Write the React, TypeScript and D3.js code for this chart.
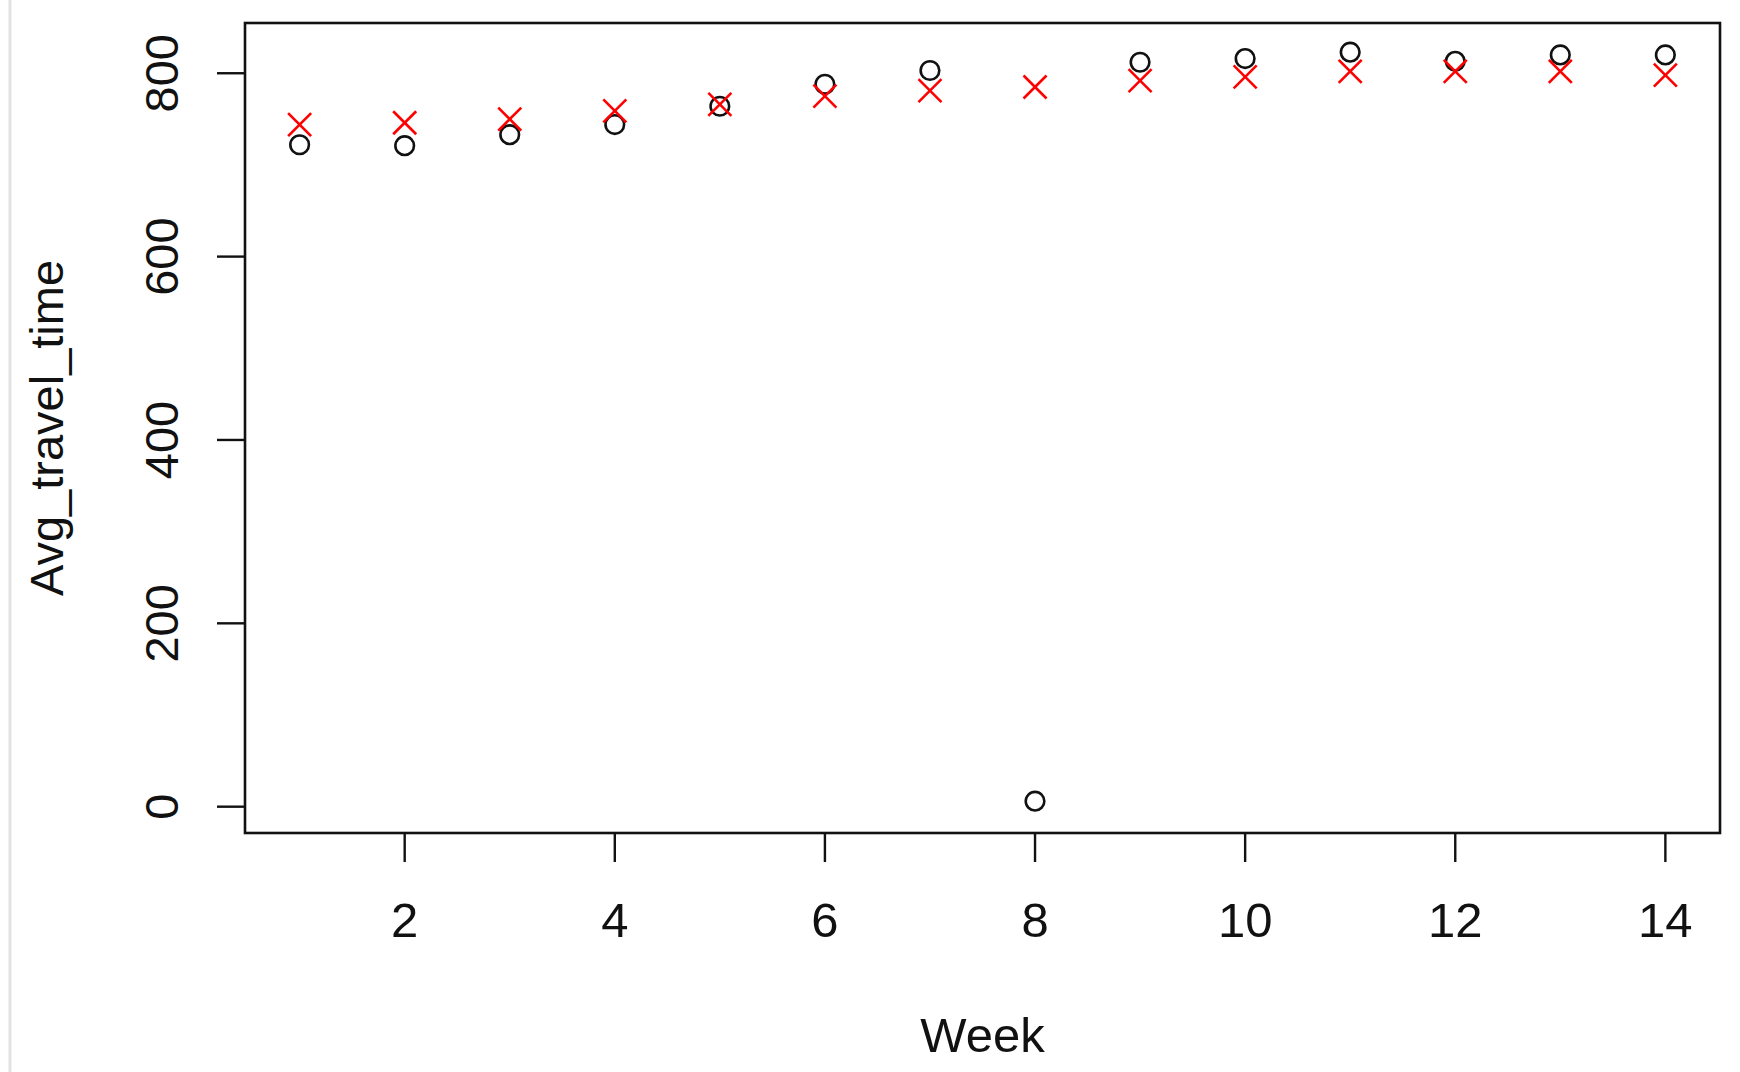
import React from "react";
import * as d3 from "d3";

const weeks = [1, 2, 3, 4, 5, 6, 7, 8, 9, 10, 11, 12, 13, 14];
const actual = [722, 721, 733, 744, 764, 788, 803, 6, 812, 816, 823, 813, 820, 820];
const predicted = [744, 746, 750, 759, 766, 775, 781, 785, 792, 796, 802, 802, 802, 798];
const xTicks = [2, 4, 6, 8, 10, 12, 14];
const yTicks = [0, 200, 400, 600, 800];

const W = 1740;
const H = 1072;
const L = 245, R = 1720, T = 23, B = 833;

export default function App() {
  const x = d3.scaleLinear().domain([0.48, 14.52]).range([L, R]);
  const y = d3.scaleLinear().domain([-28.7, 854.8]).range([B, T]);
  const font = "'Liberation Sans', Arial, sans-serif";
  const arm = 11.5;
  return (
    <div style={{ position: "absolute", left: 0, top: 0 }}>
      <svg width={W} height={H} style={{ display: "block", background: "#fff" }}>
        <line x1={10} x2={10} y1={0} y2={H} stroke="#e3e3e3" strokeWidth={3} />
        <rect x={L} y={T} width={R - L} height={B - T} fill="none" stroke="#111" strokeWidth={2.6} />
        {xTicks.map((t) => (
          <g key={"x" + t}>
            <line x1={x(t)} x2={x(t)} y1={B} y2={B + 29} stroke="#111" strokeWidth={2.4} />
            <text x={x(t)} y={937} textAnchor="middle" fontFamily={font} fontSize={49} fill="#111">
              {t}
            </text>
          </g>
        ))}
        {yTicks.map((t) => (
          <g key={"y" + t}>
            <line x1={L - 28} x2={L} y1={y(t)} y2={y(t)} stroke="#111" strokeWidth={2.4} />
            <text
              transform={`translate(178,${y(t)}) rotate(-90)`}
              textAnchor="middle"
              fontFamily={font}
              fontSize={47}
              fill="#111"
            >
              {t}
            </text>
          </g>
        ))}
        <text x={(L + R) / 2} y={1052} textAnchor="middle" fontFamily={font} fontSize={49} fill="#111">
          Week
        </text>
        <text
          transform={`translate(63,${(T + B) / 2}) rotate(-90)`}
          textAnchor="middle"
          fontFamily={font}
          fontSize={47}
          fill="#111"
        >
          Avg_travel_time
        </text>
        {weeks.map((w, i) => (
          <circle key={"c" + w} cx={x(w)} cy={y(actual[i])} r={9.3} fill="none" stroke="#111" strokeWidth={2.6} />
        ))}
        {weeks.map((w, i) => {
          const cx = x(w), cy = y(predicted[i]);
          return (
            <g key={"p" + w} stroke="#ff0000" strokeWidth={2.6}>
              <line x1={cx - arm} y1={cy - arm} x2={cx + arm} y2={cy + arm} />
              <line x1={cx - arm} y1={cy + arm} x2={cx + arm} y2={cy - arm} />
            </g>
          );
        })}
      </svg>
    </div>
  );
}
